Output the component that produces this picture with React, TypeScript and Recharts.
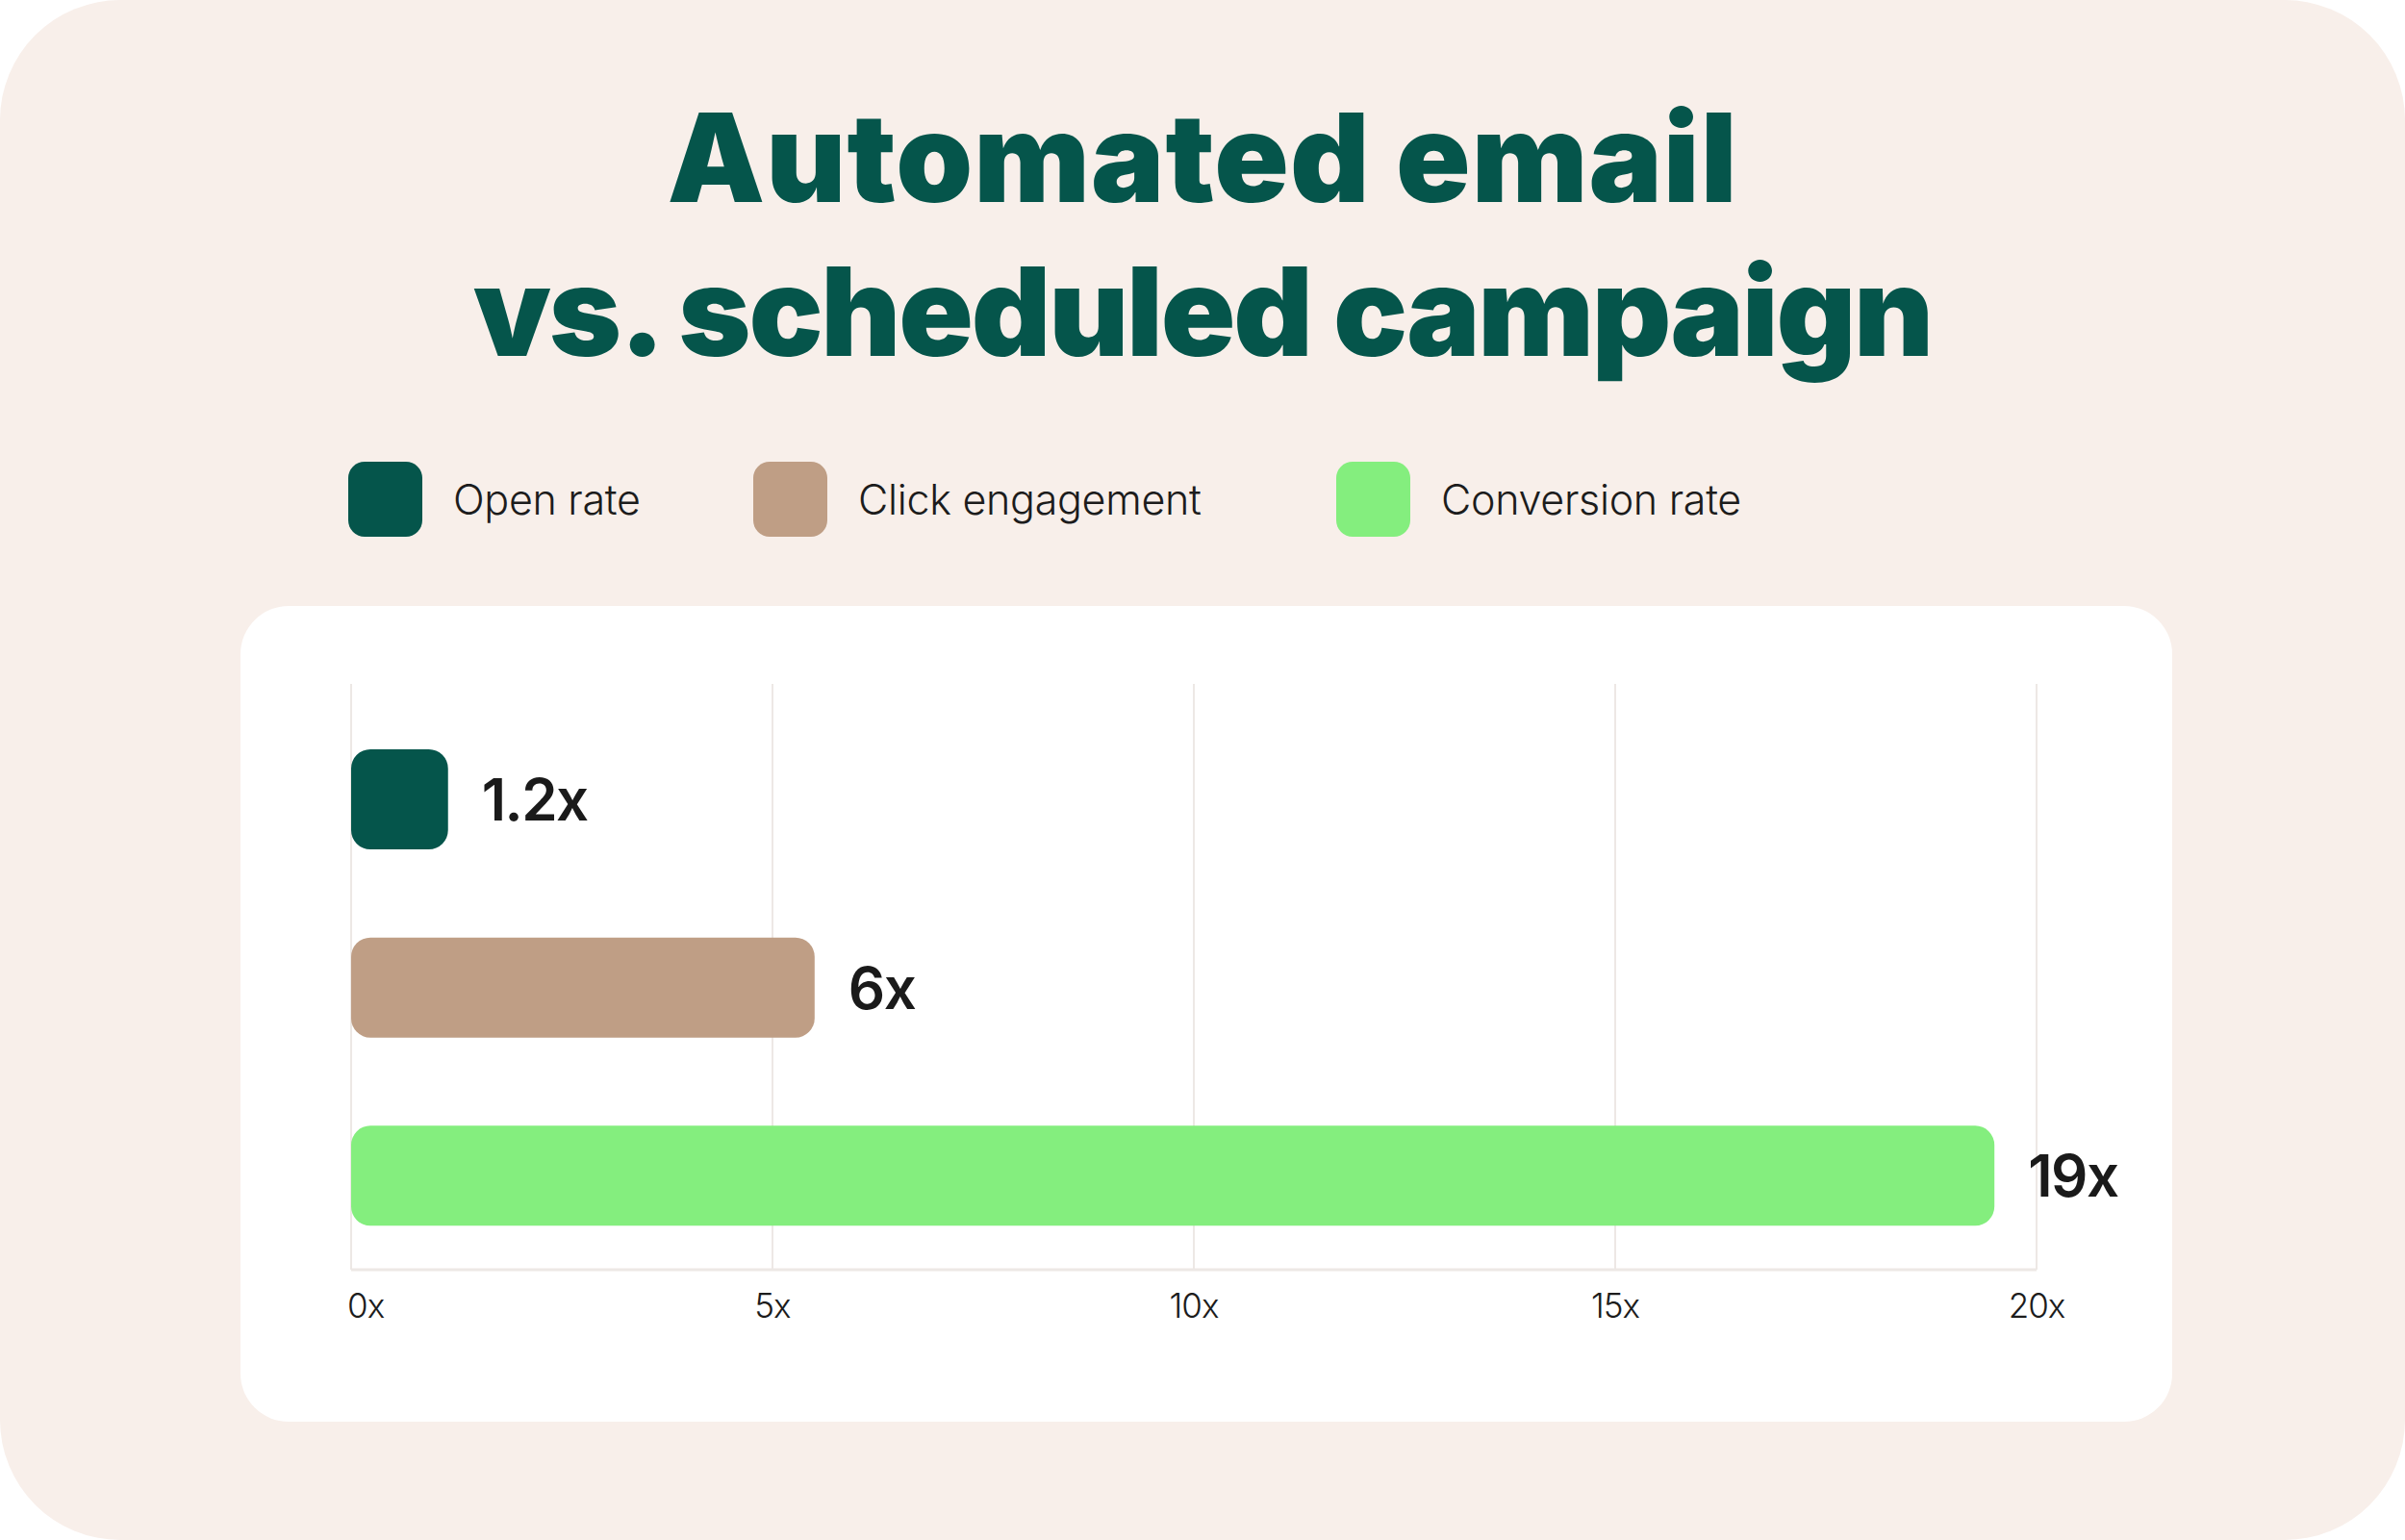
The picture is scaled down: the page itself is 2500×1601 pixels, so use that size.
import React from 'react';
import { BarChart, Bar, XAxis, YAxis, CartesianGrid, Cell, LabelList } from 'recharts';

// values
const categories = ['Open rate', 'Click engagement', 'Conversion rate'];
const barValues = [1.15, 5.5, 19.5];
const valueLabels = ['1.2x', '6x', '19x'];
const barColors = ['#05554B', '#BF9E85', '#84EE7E'];
const xTicks = [0, 5, 10, 15, 20];
const titleLines = ['Automated email', 'vs. scheduled campaign'];

const legendX = [362, 783, 1389];
const titleSpacing = [1, -2.2];

const data = categories.map((name, i) => ({
    name,
    value: barValues[i],
    label: valueLabels[i],
}));

const FONT = 'Inter, "Noto Sans", sans-serif';

const AxisTick = (props: any) => {
    const { x, y, payload, index } = props;
    const first = index === 0;
    return (
        <text
            x={first ? x - 4 : x}
            y={y + 50}
            textAnchor={first ? 'start' : 'middle'}
            fontFamily={FONT}
            fontSize={35}
            fontWeight={300}
            letterSpacing={-1}
            fill="#1c1c1c"
        >
            {payload.value}x
        </text>
    );
};

const ValueLabel = (props: any) => {
    const { x, y, width, height, value } = props;
    return (
        <text
            x={x + width + 35}
            y={y + height / 2}
            dominantBaseline="central"
            fontFamily={FONT}
            fontSize={60}
            fontWeight={600}
            letterSpacing={-1.5}
            fill="#1a1a1a"
        >
            {value}
        </text>
    );
};

export default function App() {
    return (
        <div
            style={{
                position: 'absolute',
                left: 0,
                top: 0,
                width: 2500,
                height: 1601,
                background: '#F8EFEA',
                borderRadius: 125,
                fontFamily: FONT,
                overflow: 'hidden',
            }}
        >
            {/* title */}
            <div
                style={{
                    position: 'absolute',
                    top: 84,
                    left: 0,
                    width: 2500,
                    textAlign: 'center',
                    fontSize: 128,
                    lineHeight: '160px',
                    fontWeight: 900,
                    color: '#05554B',
                }}
            >
                {titleLines.map((t, i) => (
                    <div key={t} style={{ letterSpacing: titleSpacing[i] }}>{t}</div>
                ))}
            </div>

            {/* legend */}
            {categories.map((c, i) => (
                <div
                    key={c}
                    style={{
                        position: 'absolute',
                        left: legendX[i],
                        top: 480,
                        height: 78,
                        display: 'flex',
                        alignItems: 'center',
                    }}
                >
                    <div
                        style={{
                            width: 77,
                            height: 78,
                            borderRadius: 17,
                            background: barColors[i],
                        }}
                    />
                    <span
                        style={{
                            marginLeft: 32,
                            fontSize: 43,
                            fontWeight: 300,
                            color: '#1c1c1c',
                            whiteSpace: 'nowrap',
                            letterSpacing: -0.3,
                        }}
                    >
                        {c}
                    </span>
                </div>
            ))}

            {/* chart card */}
            <div
                style={{
                    position: 'absolute',
                    left: 250,
                    top: 630,
                    width: 2008,
                    height: 848,
                    background: '#FFFFFF',
                    borderRadius: 50,
                }}
            >
                <BarChart
                    width={2008}
                    height={848}
                    data={data}
                    layout="vertical"
                    margin={{ top: 81, right: 141, left: 115, bottom: 98 }}
                >
                    <CartesianGrid horizontal={false} stroke="#EDE8E5" strokeWidth={2} />
                    <XAxis
                        type="number"
                        domain={[0, 20]}
                        ticks={xTicks}
                        height={60}
                        tickLine={false}
                        tickSize={0}
                        tickMargin={0}
                        axisLine={{ stroke: '#EDE8E5', strokeWidth: 3 }}
                        tick={<AxisTick />}
                        interval={0}
                    />
                    <YAxis type="category" dataKey="name" hide padding={{ top: 22, bottom: 0 }} />
                    <Bar dataKey="value" barSize={104} radius={20} isAnimationActive={false}>
                        {data.map((d, i) => (
                            <Cell key={d.name} fill={barColors[i]} />
                        ))}
                        <LabelList dataKey="label" content={<ValueLabel />} />
                    </Bar>
                </BarChart>
            </div>
        </div>
    );
}
